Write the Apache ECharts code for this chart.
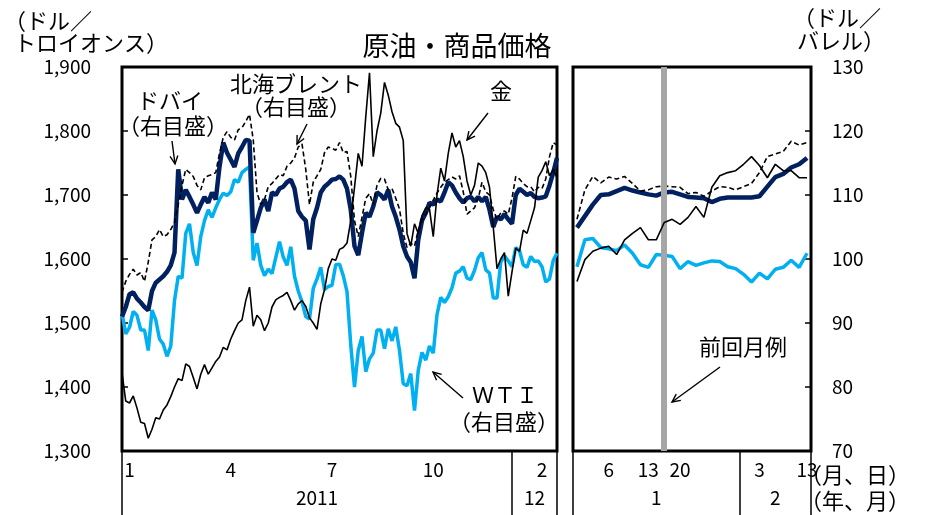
<!DOCTYPE html>
<html><head><meta charset="utf-8">
<script src="https://cdn.jsdelivr.net/npm/echarts@6/dist/echarts.min.js"></script>
<style>html,body{margin:0;padding:0;background:#fff}#c{width:932px;height:515px}</style>
</head><body><div id="c"></div>
<script>
// ---- left panel: 2011/1 - 2012/2 (sampled Mon/Thu) ----
const leftDates = [
'2011/1/3','2011/1/6','2011/1/10','2011/1/13','2011/1/17','2011/1/20','2011/1/24','2011/1/27','2011/1/31',
'2011/2/3','2011/2/7','2011/2/10','2011/2/14','2011/2/17','2011/2/21','2011/2/24','2011/2/28',
'2011/3/3','2011/3/7','2011/3/10','2011/3/14','2011/3/17','2011/3/21','2011/3/24','2011/3/28','2011/3/31',
'2011/4/4','2011/4/7','2011/4/11','2011/4/14','2011/4/18','2011/4/21','2011/4/25','2011/4/28',
'2011/5/2','2011/5/5','2011/5/9','2011/5/12','2011/5/16','2011/5/19','2011/5/23','2011/5/26','2011/5/30',
'2011/6/2','2011/6/6','2011/6/9','2011/6/13','2011/6/16','2011/6/20','2011/6/23','2011/6/27','2011/6/30',
'2011/7/4','2011/7/7','2011/7/11','2011/7/14','2011/7/18','2011/7/21','2011/7/25','2011/7/28',
'2011/8/1','2011/8/4','2011/8/8','2011/8/11','2011/8/15','2011/8/18','2011/8/22','2011/8/25','2011/8/29',
'2011/9/1','2011/9/5','2011/9/8','2011/9/12','2011/9/15','2011/9/19','2011/9/22','2011/9/26','2011/9/29',
'2011/10/3','2011/10/6','2011/10/10','2011/10/13','2011/10/17','2011/10/20','2011/10/24','2011/10/27','2011/10/31',
'2011/11/3','2011/11/7','2011/11/10','2011/11/14','2011/11/17','2011/11/21','2011/11/24','2011/11/28',
'2011/12/1','2011/12/5','2011/12/8','2011/12/12','2011/12/15','2011/12/19','2011/12/22','2011/12/26','2011/12/29',
'2012/1/2','2012/1/5','2012/1/9','2012/1/12','2012/1/16','2012/1/19','2012/1/23','2012/1/26','2012/1/30',
'2012/2/2','2012/2/6','2012/2/9','2012/2/13'];

const goldLeft = [
1422,1378,1375,1386,1367,1345,1343,1320,1334,
1352,1350,1364,1372,1385,1400,1413,1410,
1436,1432,1415,1397,1420,1435,1420,1430,1440,
1447,1462,1458,1475,1488,1500,1505,1535,
1556,1495,1512,1505,1488,1500,1525,1536,1540,
1543,1548,1535,1520,1530,1535,1526,1508,1500,
1490,1530,1552,1585,1600,1598,1615,1618,
1625,1660,1712,1765,1745,1822,1891,1760,1800,
1828,1876,1856,1830,1812,1806,1785,1640,1620,
1655,1640,1668,1680,1678,1635,1700,1742,1722,
1765,1797,1775,1785,1760,1722,1700,1715,
1750,1745,1735,1712,1650,1585,1600,1610,1542,
1580,1617,1612,1645,1640,1660,1680,1728,1738,
1752,1730,1740,1727];

const brentLeft = [
94.8,96.5,97.6,98.4,97.5,97.9,96.5,99.5,103.0,
103.5,104.6,103.5,103.8,104.6,105.7,108.5,111.5,
114.0,113.5,112.9,111.5,110.8,112.7,113.0,113.2,113.5,
116.5,119.0,119.9,119.0,118.6,120.2,120.5,121.5,
122.6,118.6,110.4,108.5,109.3,111.3,111.8,112.5,113.2,
113.0,114.5,115.0,115.8,117.5,118.0,114.0,108.5,112.0,
113.0,114.0,116.6,117.5,117.3,117.0,118.2,116.6,
116.8,112.9,106.0,103.5,106.5,109.5,110.2,108.5,111.5,
112.6,112.5,110.8,111.0,109.5,107.8,104.0,101.8,102.5,
102.0,104.5,106.0,107.0,108.0,109.2,110.3,111.2,112.0,
112.4,112.8,112.5,113.0,110.5,107.0,107.5,108.0,
109.5,112.0,110.5,110.0,107.7,106.2,107.2,107.5,107.0,
109.5,112.9,112.5,111.8,111.3,111.3,110.5,111.2,111.0,
112.5,116.0,118.2,117.8];

const dubaiLeft = [
91.0,92.5,94.5,94.8,93.8,93.2,92.5,92.0,95.0,
96.3,96.8,97.3,98.0,99.0,101.0,114.0,109.3,
110.8,109.7,108.5,107.2,108.5,109.7,108.8,110.4,109.3,
114.4,118.2,116.6,115.5,114.4,116.5,117.5,118.6,
118.5,104.1,106.0,108.0,109.3,107.5,110.4,110.0,111.0,
111.3,112.0,112.4,111.0,107.5,106.6,106.0,101.5,106.2,
108.0,110.4,111.3,111.8,112.4,112.5,112.9,112.4,
111.0,107.7,102.0,100.6,104.1,107.2,106.6,108.2,110.4,
110.0,109.3,110.8,108.2,106.6,104.6,102.0,100.4,99.5,
97.0,103.0,106.0,107.2,108.8,108.5,109.3,109.0,110.4,
112.0,111.5,110.4,109.5,108.8,109.5,109.7,109.0,
109.7,109.0,109.7,107.7,105.0,106.6,106.2,107.0,106.2,
105.5,110.0,111.0,110.5,110.0,110.3,109.7,109.5,109.6,
109.8,111.5,113.5,115.8];

const wtiLeft = [
91.5,88.3,89.3,91.8,91.2,88.9,88.9,85.7,92.0,
90.5,87.5,86.7,84.8,86.4,93.5,97.3,97.0,
104.0,105.5,101.0,99.0,103.5,106.0,107.7,106.5,108.0,
109.3,110.3,109.9,110.5,112.4,112.0,113.5,114.0,
114.4,99.8,102.5,99.0,97.4,98.4,97.7,100.2,102.7,
100.3,99.0,101.9,97.3,95.0,93.3,91.0,90.6,95.4,
96.9,98.7,95.2,95.7,95.9,99.1,99.2,97.4,
94.9,86.6,80.0,85.7,87.9,82.4,84.4,85.3,88.9,
88.9,86.0,89.1,87.2,89.4,85.7,80.5,80.2,82.1,
76.3,82.6,85.4,84.2,86.4,85.3,91.3,94.0,93.2,
94.1,95.5,97.8,98.1,98.8,97.0,96.8,98.2,
100.2,101.0,98.3,97.8,93.9,93.9,99.5,100.5,99.7,
98.8,101.8,101.3,99.1,98.7,100.4,99.6,99.7,98.8,
96.4,96.9,99.8,100.9];

// ---- right panel: daily 2011/12/30 - 2012/2/13 ----
const rightDates = ['2011/12/30','2012/1/3','2012/1/4','2012/1/5','2012/1/6','2012/1/9','2012/1/10','2012/1/11','2012/1/12','2012/1/13',
'2012/1/17','2012/1/18','2012/1/19','2012/1/20','2012/1/23','2012/1/24','2012/1/25','2012/1/26','2012/1/27','2012/1/30','2012/1/31',
'2012/2/1','2012/2/2','2012/2/3','2012/2/6','2012/2/7','2012/2/8','2012/2/9','2012/2/10','2012/2/13'];
const goldRight  = [1565,1599,1612,1617,1620,1607,1630,1640,1649,1630,1630,1657,1662,1654,1665,1682,1665,1712,1730,1735,1738,1748,1760,1746,1727,1748,1738,1738,1727,1727];
const brentRight = [106.2,110.8,112.9,111.9,112.8,112.5,112.9,111.8,110.6,110.8,111.3,111.4,111.3,111.2,110.2,110.4,109.8,110.6,111.3,111.2,110.8,111.3,111.8,113.5,116.0,116.4,116.8,118.4,117.8,118.2];
const dubaiRight = [104.9,106.7,108.5,110.0,110.1,110.6,111.1,110.7,110.4,110.1,109.9,110.4,110.5,110.1,109.7,109.6,109.5,108.9,109.4,109.6,109.6,109.6,109.6,109.8,111.3,112.8,113.3,114.3,114.8,115.8];
const wtiRight   = [98.8,103.0,103.2,101.8,101.6,101.3,102.2,100.9,99.1,98.7,100.7,100.6,100.4,98.5,99.6,99.0,99.4,99.7,99.6,98.8,98.5,97.6,96.4,97.8,96.9,98.4,98.7,99.8,98.7,100.9];

// ---- tick labels ----
const leftMonthLabelDates = ['2011/1/10','2011/4/14','2011/7/18','2011/10/20','2012/1/30'];
const leftMonthLabels = ['1','4','7','10','2'];
const leftYearLabelDates = ['2011/7/4','2012/1/23'];
const leftYearLabels = ['2011','12'];
const leftGroupStarts = ['2011/1/3','2012/1/2','2012/2/13'];
const rightDayLabelDates = ['2012/1/6','2012/1/13','2012/1/20','2012/2/3','2012/2/13'];
const rightDayLabels = ['6','13','20','3','13'];
const rightMonthLabelDates = ['2012/1/17','2012/2/7'];
const rightMonthLabels = ['1','2'];
const rightGroupStarts = ['2011/12/30','2012/2/1'];
const prevReportDate = '2012/1/18';

const FONT = '"Noto Sans CJK JP", "Noto Sans", sans-serif';
const pick = (dates, labels) => v => { const k = dates.indexOf(v); return k >= 0 ? labels[k] : ''; };

function txt(s, x, y, size, align) {
  return { type: 'text', x: x, y: y, z: 20, silent: true,
    style: { text: s, fill: '#000', font: size + 'px ' + FONT,
      align: align || 'center', verticalAlign: 'middle', textAlign: align || 'center', textVerticalAlign: 'middle' } };
}
function arrow(x1, y1, x2, y2) {
  const a = Math.atan2(y2 - y1, x2 - x1), L = 9, w = 0.45;
  return [
    { type: 'line', z: 20, silent: true, shape: { x1: x1, y1: y1, x2: x2, y2: y2 }, style: { stroke: '#000', lineWidth: 1.4 } },
    { type: 'polyline', z: 20, silent: true, shape: { points: [
        [x2 - L * Math.cos(a - w), y2 - L * Math.sin(a - w)], [x2, y2],
        [x2 - L * Math.cos(a + w), y2 - L * Math.sin(a + w)]] },
      style: { stroke: '#000', fill: null, lineWidth: 1.4 } }
  ];
}

const labelStyle = { fontSize: 19, color: '#000', fontFamily: FONT };
const sepTick = list => ({ show: true, interval: (i, v) => list.includes(v), length: 64, lineStyle: { color: '#000', width: 1.5 } });

const colWTI = '#00B0F0', colDubai = '#002060';
function mkSeries(name, xi, yi, data, kind) {
  const s = { type: 'line', name: name, xAxisIndex: xi, yAxisIndex: yi, data: data, symbol: 'none',
    silent: true, animation: false, emphasis: { disabled: true } };
  if (kind === 'wti')   { s.lineStyle = { color: colWTI, width: 3.5 }; s.z = 2; }
  if (kind === 'dubai') { s.lineStyle = { color: colDubai, width: 4.5 }; s.z = 3; }
  if (kind === 'brent') { s.lineStyle = { color: '#000', width: 1.6, type: [5, 3] }; s.z = 4; }
  if (kind === 'gold')  { s.lineStyle = { color: '#000', width: 1.6 }; s.z = 5; }
  return s;
}

const option = {
  animation: false,
  textStyle: { fontFamily: FONT, color: '#000' },
  grid: [
    { left: 122, top: 67, width: 435, height: 384, show: true, borderColor: '#000', borderWidth: 3, backgroundColor: 'transparent' },
    { left: 573, top: 67, width: 238, height: 384, show: true, borderColor: '#000', borderWidth: 3, backgroundColor: 'transparent' }
  ],
  xAxis: [
    { gridIndex: 0, type: 'category', data: leftDates, boundaryGap: false, position: 'bottom',
      axisLine: { show: false }, axisTick: sepTick(leftGroupStarts), splitLine: { show: false },
      axisLabel: Object.assign({ interval: 0, margin: 9, formatter: pick(leftMonthLabelDates, leftMonthLabels) }, labelStyle) },
    { gridIndex: 0, type: 'category', data: leftDates, boundaryGap: false, position: 'bottom',
      axisLine: { show: false }, axisTick: { show: false }, splitLine: { show: false },
      axisLabel: Object.assign({ interval: 0, margin: 37, formatter: pick(leftYearLabelDates, leftYearLabels) }, labelStyle) },
    { gridIndex: 1, type: 'category', data: rightDates, boundaryGap: true, position: 'bottom',
      axisLine: { show: false }, axisTick: sepTick(rightGroupStarts), splitLine: { show: false },
      axisLabel: Object.assign({ interval: 0, margin: 9, formatter: pick(rightDayLabelDates, rightDayLabels) }, labelStyle) },
    { gridIndex: 1, type: 'category', data: rightDates, boundaryGap: true, position: 'bottom',
      axisLine: { show: false }, axisTick: { show: false }, splitLine: { show: false },
      axisLabel: Object.assign({ interval: 0, margin: 37, formatter: pick(rightMonthLabelDates, rightMonthLabels) }, labelStyle) }
  ],
  yAxis: [
    { gridIndex: 0, type: 'value', min: 1300, max: 1900, interval: 100, position: 'left',
      axisLine: { show: false }, splitLine: { show: false },
      axisTick: { show: true, inside: true, length: 6, lineStyle: { color: '#000', width: 1.5 } },
      axisLabel: Object.assign({ margin: 31, formatter: v => v.toLocaleString('en-US') }, labelStyle) },
    { gridIndex: 0, type: 'value', min: 70, max: 130, interval: 10, position: 'right', show: false },
    { gridIndex: 1, type: 'value', min: 1300, max: 1900, interval: 100, position: 'left', show: false },
    { gridIndex: 1, type: 'value', min: 70, max: 130, interval: 10, position: 'right',
      axisLine: { show: false }, splitLine: { show: false },
      axisTick: { show: true, inside: true, length: 6, lineStyle: { color: '#000', width: 1.5 } },
      axisLabel: Object.assign({ margin: 21 }, labelStyle) }
  ],
  series: [
    { type: 'line', xAxisIndex: 2, yAxisIndex: 3, data: [], z: 1, silent: true,
      markLine: { silent: true, symbol: ['none', 'none'], label: { show: false }, animation: false,
        lineStyle: { color: '#A6A6A6', width: 6, type: 'solid' }, data: [{ xAxis: prevReportDate }] } },
    mkSeries('WTI', 0, 1, wtiLeft, 'wti'),
    mkSeries('ドバイ', 0, 1, dubaiLeft, 'dubai'),
    mkSeries('北海ブレント', 0, 1, brentLeft, 'brent'),
    mkSeries('金', 0, 0, goldLeft, 'gold'),
    mkSeries('WTI', 2, 3, wtiRight, 'wti'),
    mkSeries('ドバイ', 2, 3, dubaiRight, 'dubai'),
    mkSeries('北海ブレント', 2, 3, brentRight, 'brent'),
    mkSeries('金', 2, 2, goldRight, 'gold')
  ],
  graphic: [].concat(
    [txt('原油・商品価格', 457, 46, 27),
     txt('（ドル／', 4, 21, 22, 'left'), txt('トロイオンス）', 14, 43, 22, 'left'),
     txt('（ドル／', 793, 18, 22, 'left'), txt('バレル）', 797, 41, 22, 'left'),
     txt('（月、日）', 800, 475, 22, 'left'), txt('（年、月）', 800, 501, 22, 'left'),
     txt('ドバイ', 170, 101, 22), txt('（右目盛）', 173, 126, 22),
     txt('北海ブレント', 296, 84, 22), txt('（右目盛）', 296, 107, 22),
     txt('金', 501, 91, 22),
     txt('ＷＴＩ', 505, 395, 22), txt('（右目盛）', 504, 422, 22),
     txt('前回月例', 743, 347, 22)],
    arrow(172, 141, 175, 164),
    arrow(307, 124, 297, 144),
    arrow(488, 113, 467, 140),
    arrow(463, 398, 433, 372),
    arrow(720, 367, 672, 402)
  )
};

const chart = echarts.init(document.getElementById('c'), null, { renderer: 'canvas' });
chart.setOption(option);
</script>
</body></html>
